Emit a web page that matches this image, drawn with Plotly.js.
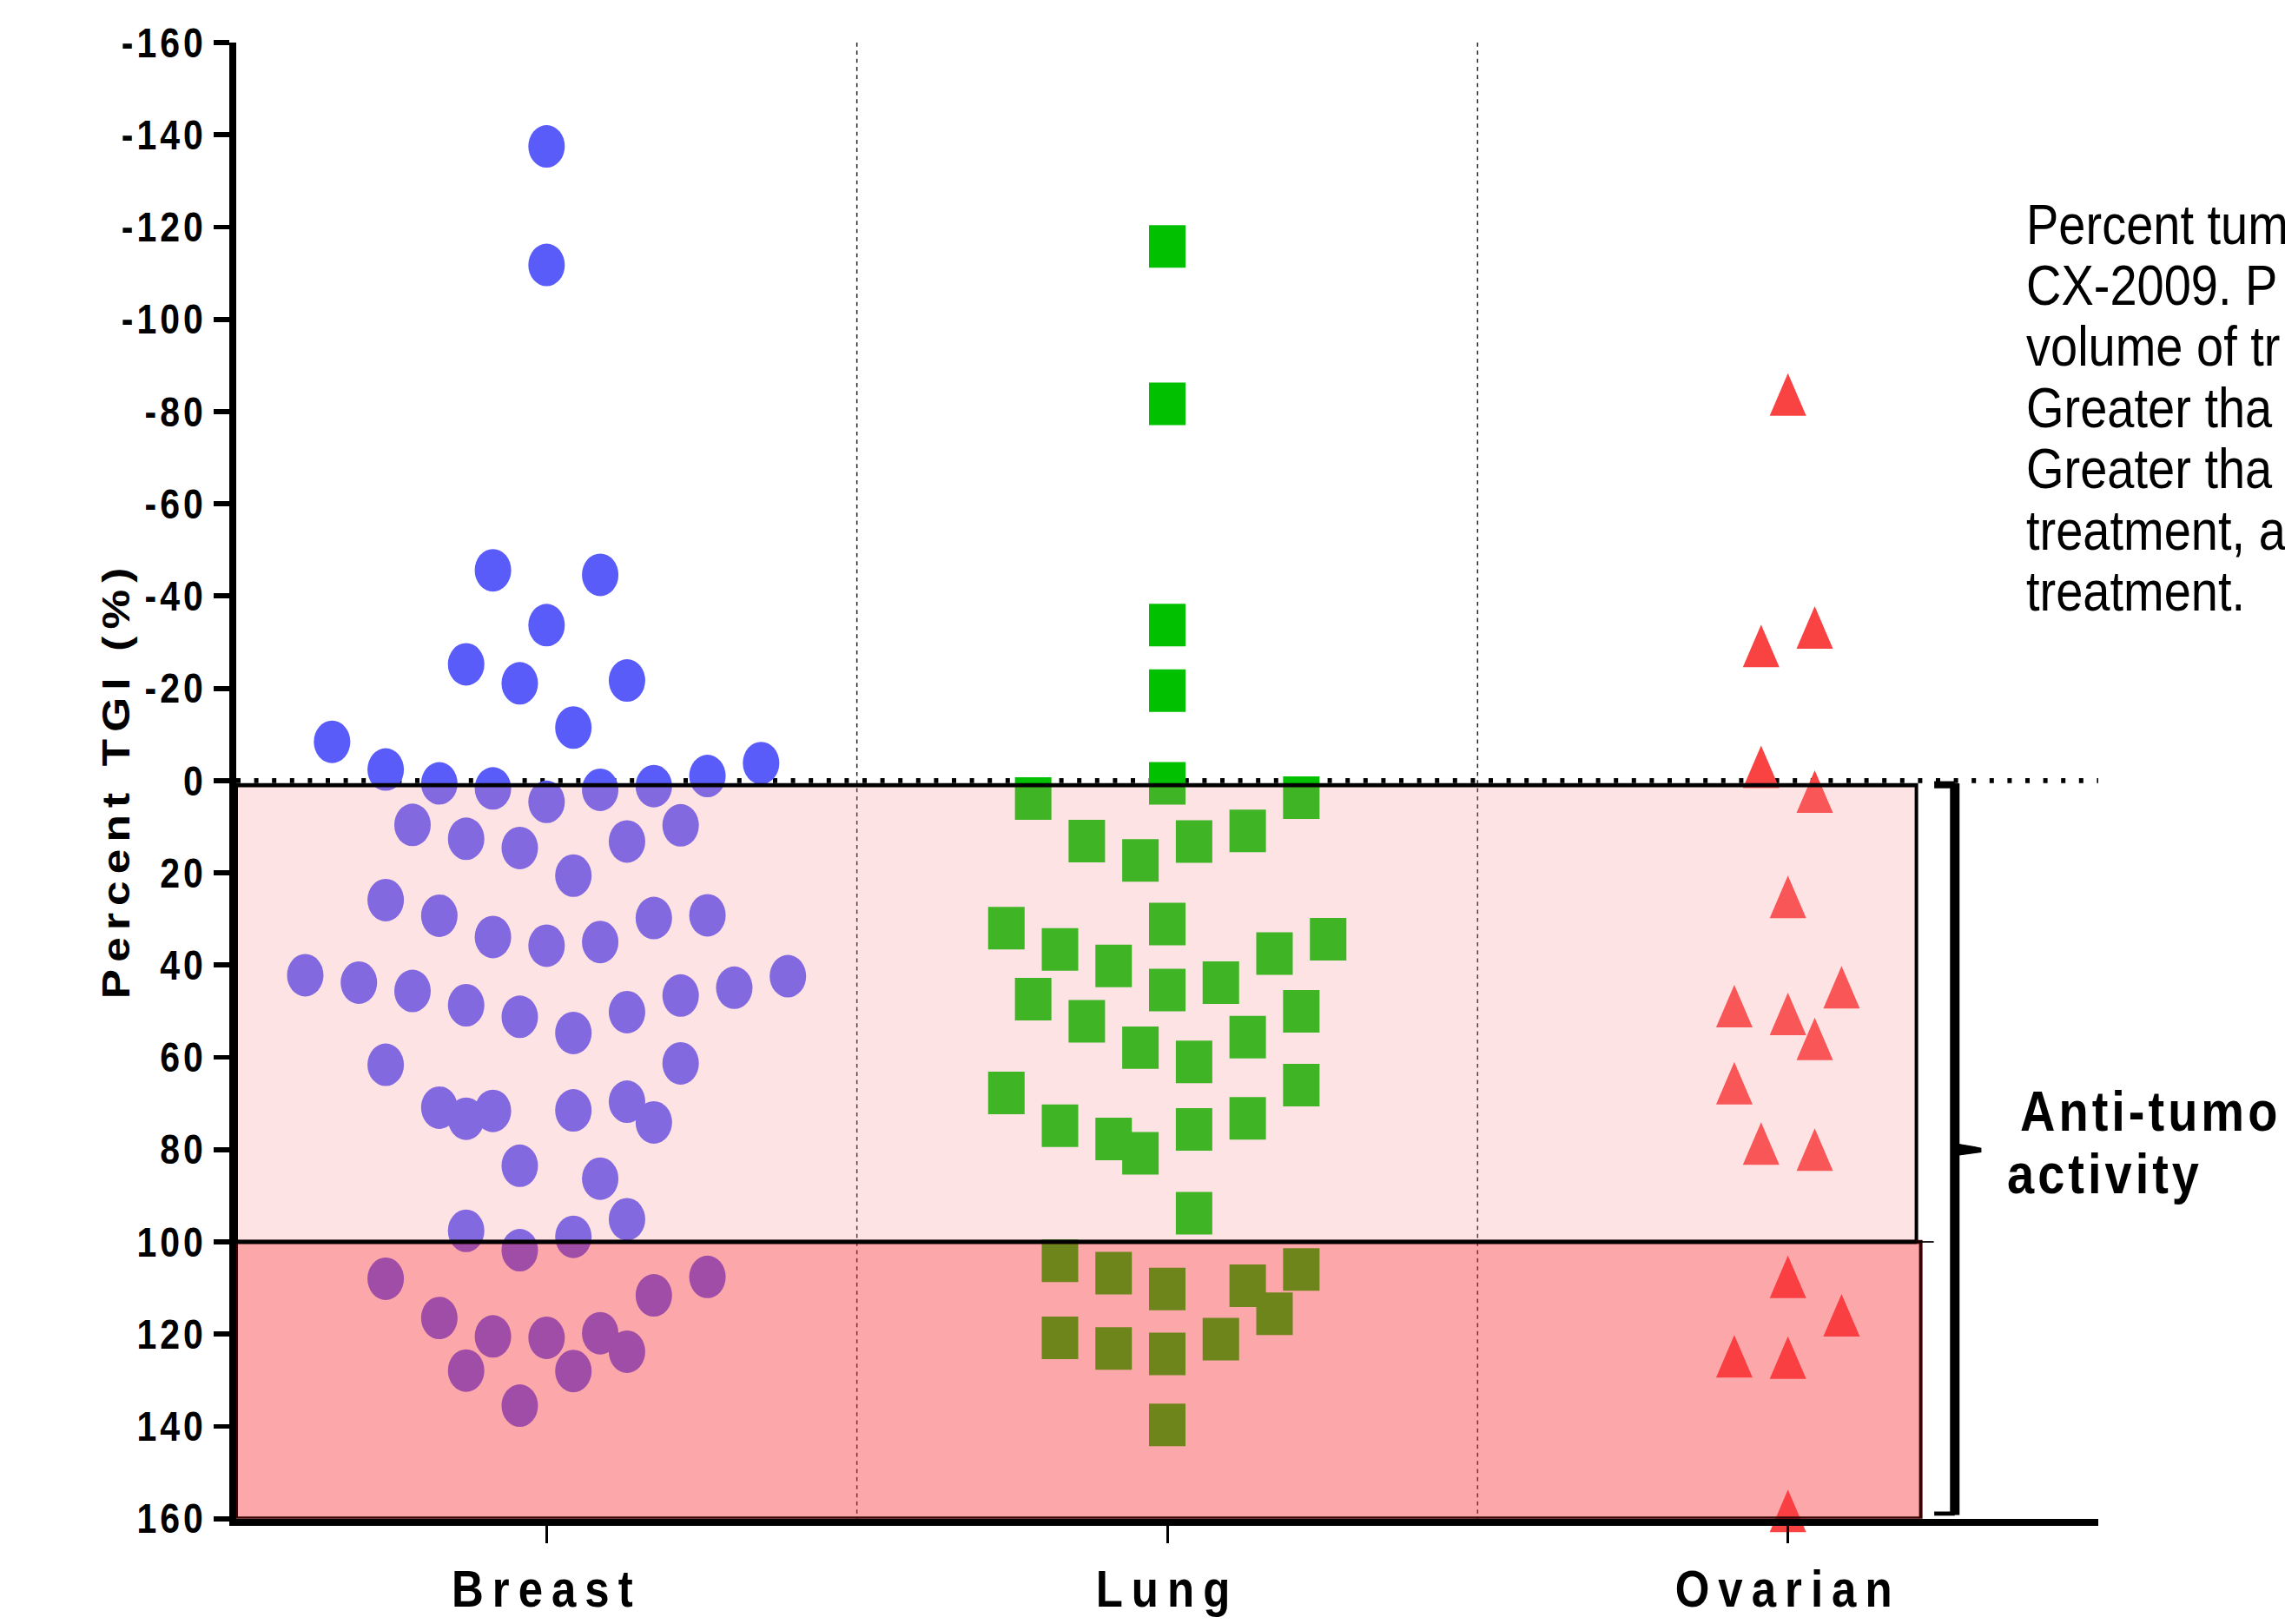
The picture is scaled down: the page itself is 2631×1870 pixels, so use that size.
<!DOCTYPE html>
<html><head><meta charset="utf-8">
<script src="https://cdn.plot.ly/plotly-3.0.1.min.js"></script>
<style>
html,body{margin:0;padding:0;background:#fff;overflow:hidden;width:2631px;height:1870px;}
#wrap{width:2631px;height:1603px;transform:scaleY(1.16656);transform-origin:0 0;}
#chart{width:2631px;height:1603px;}
.ytick text{letter-spacing:4px;}
.xtick text{letter-spacing:10px;}
g.annotation[data-index="0"] text{letter-spacing:7px;}
g.annotation[data-index="1"] text, g.annotation[data-index="2"] text{letter-spacing:4px;}
</style></head>
<body><div id="wrap"><div id="chart"></div></div>
<script>
// ---- data ----
const categories = ['Breast', 'Lung', 'Ovarian'];

const breastTGI = [-137.5,-111.8,-45.6,-44.6,-33.7,-25.2,-21.1,-21.7,-11.5,-8.4,-2.4,0.6,1.7,4.6,2.0,1.2,-1.0,-3.8,
  9.6,12.6,14.6,20.6,13.2,9.7,
  25.9,29.3,33.9,35.8,35.0,29.8,29.2,
  42.2,43.8,45.6,48.7,51.2,54.7,50.2,46.6,44.9,42.4,
  61.6,61.3,
  70.9,73.3,71.6,71.5,69.6,74.1,
  83.5,86.3,
  97.6,95.1,98.9,101.8,
  108.0,107.6,116.5,111.6,120.5,120.8,119.8,123.8,127.9,128.0,135.5];
const breastSlot = [0,0,-2,2,0,-3,-1,3,1,-8,-6,-4,-2,0,2,4,6,8,
  -5,-3,-1,1,3,5,
  -6,-4,-2,0,2,4,6,
  -9,-7,-5,-3,-1,1,3,5,7,9,
  -6,5,
  -4,-3,-2,1,3,4,
  -1,2,
  -3,3,1,-1,
  -6,6,-4,4,-2,0,2,3,-3,1,-1];

const lungTGI = [-115.8,-81.7,-33.7,-19.5,0.6,
  3.9,3.7,
  13.1,17.3,13.2,10.9,
  32.0,31.1,36.6,40.2,37.5,34.4,
  47.4,52.2,45.4,43.8,50.0,
  57.9,61.0,55.6,
  66.0,
  67.7,74.8,77.7,80.8,75.6,73.2,
  93.8,
  104.1,106.8,110.2,109.5,106.0,115.6,120.8,123.1,124.3,121.1,139.7];
const lungSlot = [0,0,0,0,0,
  -5,5,
  -3,-1,1,3,
  -6,0,-4,-2,4,6,
  -5,-3,0,2,5,
  -1,1,3,
  5,
  -6,-4,-2,-1,1,3,
  1,
  -4,-2,0,3,5,4,-4,-2,0,2,0];

const ovarianTGI = [-83.7,-29.2,-33.2,-3.0,2.4,25.2,48.9,50.6,44.8,56.0,65.6,78.7,80.0,107.6,115.9,124.8,125.1,158.3];
const ovarianSlot = [0,-1,1,-1,1,0,-2,0,2,1,-2,-1,1,0,2,-2,0,0];

const yTickVals = [-160,-140,-120,-100,-80,-60,-40,-20,0,20,40,60,80,100,120,140,160];
const yTickText = ['-160','-140','-120','-100','-80','-60','-40','-20','0','20','40','60','80','100','120','140','160'];

const captionLines = ['Percent tum', 'CX-2009. P', 'volume of tr', 'Greater tha', 'Greater tha', 'treatment, a', 'treatment.'];

// ---- drawing ----
const SLOT_W = 0.0432;
const FONT = 'Liberation Sans, Arial, Helvetica, sans-serif';

function xs(groupIndex, slots) { return slots.map(s => groupIndex + s * SLOT_W); }

const traces = [
  {type:'scatter', mode:'markers', x: xs(0, breastSlot), y: breastTGI, name: categories[0],
   marker:{symbol:'circle', size:42, color:'#5a5cfa', line:{width:0}}},
  {type:'scatter', mode:'markers', x: xs(1, lungSlot), y: lungTGI, name: categories[1],
   marker:{symbol:'square', size:42, color:'#00c000', line:{width:0}}},
  {type:'scatter', mode:'markers', x: xs(2, ovarianSlot), y: ovarianTGI, name: categories[2], cliponaxis:false,
   marker:{symbol:'triangle-up', size:40, color:'#f94343', line:{width:0}}}
];

const captionY = [0.8770,0.8355,0.7941,0.7526,0.7111,0.6697,0.6282];
const annotations = [
  {xref:'paper', yref:'paper', x:-0.0645, y:0.5005, text:'Percent TGI (%)', textangle:-90, showarrow:false,
   xanchor:'center', yanchor:'middle', font:{family:FONT, size:44, weight:'bold', color:'#000'}},
  {xref:'paper', yref:'paper', x:0.9655, y:0.2763, text:'Anti-tumo', showarrow:false,
   xanchor:'left', yanchor:'middle', font:{family:FONT, size:56, weight:'bold', color:'#000'}},
  {xref:'paper', yref:'paper', x:0.9575, y:0.2337, text:'activity', showarrow:false,
   xanchor:'left', yanchor:'middle', font:{family:FONT, size:56, weight:'bold', color:'#000'}}
];
captionLines.forEach((t, i) => annotations.push({xref:'paper', yref:'paper', x:0.9605, y:captionY[i], text:t, showarrow:false,
  xanchor:'left', yanchor:'middle', font:{family:FONT, size:56, color:'#000'}}));

const shapes = [
  {type:'line', xref:'x', yref:'y', x0:0.5, x1:0.5, y0:-160, y1:160, layer:'below', line:{color:'#222', width:1.5, dash:'4px,4px'}},
  {type:'line', xref:'x', yref:'y', x0:1.5, x1:1.5, y0:-160, y1:160, layer:'below', line:{color:'#222', width:1.5, dash:'4px,4px'}},
  {type:'line', xref:'x', yref:'y', x0:-0.5, x1:2.5, y0:0, y1:0, layer:'below', line:{color:'#000', width:5, dash:'5px,15.6px'}},
  {type:'rect', xref:'x', yref:'y', x0:-0.5, x1:2.207, y0:1, y1:100, layer:'above', fillcolor:'rgba(251,143,147,0.25)', line:{color:'#000', width:4}},
  {type:'rect', xref:'x', yref:'y', x0:-0.5, x1:2.214, y0:100, y1:160, layer:'above', fillcolor:'rgba(248,58,63,0.442)', line:{color:'#3a0404', width:4}},
  {type:'line', xref:'x', yref:'y', x0:-0.5, x1:2.207, y0:100, y1:100, layer:'above', line:{color:'#000', width:4}},
  {type:'line', xref:'x', yref:'y', x0:2.207, x1:2.235, y0:100, y1:100, layer:'above', line:{color:'#000', width:1.5}},
  {type:'line', xref:'x', yref:'y', x0:2.2688, x1:2.2688, y0:0.6, y1:159.2, layer:'above', line:{color:'#000', width:11}},
  {type:'line', xref:'x', yref:'y', x0:2.2357, x1:2.2688, y0:0.9, y1:0.9, layer:'above', line:{color:'#000', width:7}},
  {type:'line', xref:'x', yref:'y', x0:2.2357, x1:2.2688, y0:158.9, y1:158.9, layer:'above', line:{color:'#000', width:4}},
  {type:'path', xref:'x', yref:'y', path:'M 2.2688,78.7 L 2.300,79.4 L 2.311,79.7 L 2.311,80.5 L 2.2688,81.3 Z', layer:'above', fillcolor:'#000', line:{color:'#000', width:1}}
];

const layout = {
  width: 2631, height: 1603,
  margin: {l:272, r:215, t:42, b:104, pad:0},
  paper_bgcolor:'#ffffff', plot_bgcolor:'rgba(0,0,0,0)',
  showlegend:false,
  font:{family:FONT, color:'#000'},
  xaxis:{range:[-0.5,2.5], tickmode:'array', tickvals:[0,1,2], ticktext:categories, showgrid:false, zeroline:false,
    showline:true, linecolor:'#000', linewidth:7, ticks:'outside', ticklen:17, tickwidth:3, tickcolor:'#000', tickangle:0,
    tickfont:{family:FONT, size:51, weight:'bold', color:'#000'}, ticklabelstandoff:2, fixedrange:true},
  yaxis:{range:[160,-160], tickmode:'array', tickvals:yTickVals, ticktext:yTickText, showgrid:false, zeroline:false,
    showline:true, linecolor:'#000', linewidth:8, ticks:'outside', ticklen:18, tickwidth:5, tickcolor:'#000',
    tickfont:{family:FONT, size:41, weight:'bold', color:'#000'}, ticklabelstandoff:0, fixedrange:true},
  shapes: shapes,
  annotations: annotations
};

Plotly.newPlot('chart', traces, layout, {staticPlot:true, displayModeBar:false}).then(gd => {
  const tr = gd.querySelectorAll('.scatterlayer .trace');
  if (tr[2]) tr[2].querySelectorAll('path.point').forEach(p => p.setAttribute('d', 'M-21,21H21L0,-21Z'));
});
</script>
</body></html>
